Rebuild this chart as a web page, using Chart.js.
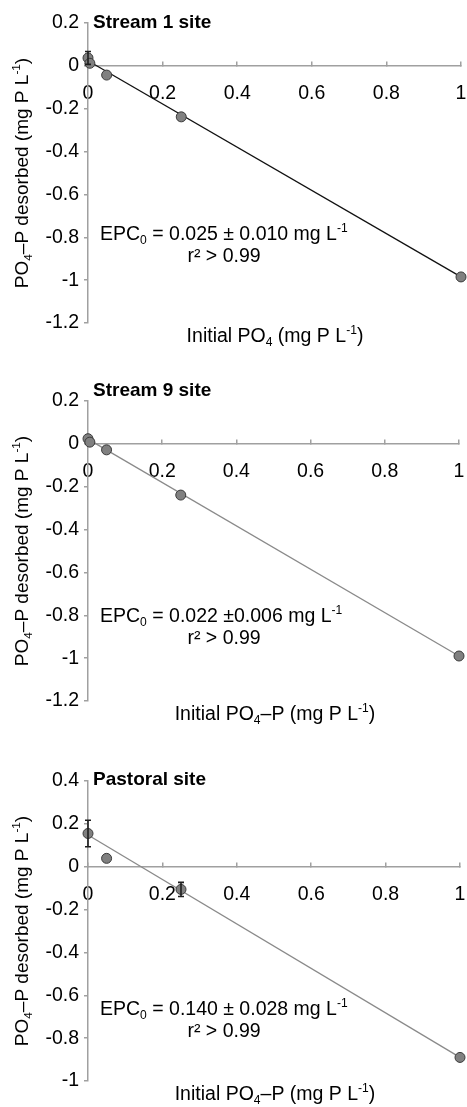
<!DOCTYPE html>
<html>
<head>
<meta charset="utf-8">
<script src="https://cdn.jsdelivr.net/npm/chart.js@4.4.1/dist/chart.umd.min.js"></script>
<style>
  body { margin: 0; background: #fff; width: 467px; height: 1107px; overflow: hidden; position: relative; }
  canvas { position: absolute; left: 0; }
</style>
</head>
<body>
<canvas id="stream1Chart" width="467" height="375" style="top:-17px"></canvas>
<canvas id="stream9Chart" width="467" height="375" style="top:361px"></canvas>
<canvas id="pastoralChart" width="467" height="375" style="top:741px"></canvas>
<script>
// initial PO4-P (x) and PO4-P desorbed (y), mg P L-1
const stream1X = [0, 0.005, 0.05, 0.25, 1]
const stream1Y = [0.037, 0.012, -0.043, -0.238, -0.985]
const stream1Err = [0.03, 0, 0, 0, 0]
const stream1FitX = [0, 1]
const stream1FitY = [0.024, -0.985]

const stream9X = [0, 0.005, 0.05, 0.25, 1]
const stream9Y = [0.024, 0.008, -0.028, -0.239, -0.99]
const stream9Err = [0, 0, 0, 0, 0]
const stream9FitX = [0, 1]
const stream9FitY = [0.022, -0.99]

const pastoralX = [0, 0.05, 0.25, 1]
const pastoralY = [0.155, 0.039, -0.106, -0.89]
const pastoralErr = [0.062, 0, 0.033, 0]
const pastoralFitX = [0, 1]
const pastoralFitY = [0.148, -0.89]

const xTicks = [0, 0.2, 0.4, 0.6, 0.8, 1]

const FONT = '"Liberation Sans", Arial, sans-serif'

const drawRich = (ctx, segs, x, y, size, align, bold) => {
    const fontFor = (m) => (bold ? 'bold ' : '') + (m ? size * 0.62 : size) + 'px ' + FONT
    let total = 0
    segs.forEach(([t, m]) => { ctx.font = fontFor(m); total += ctx.measureText(t).width })
    let cx = align === 'center' ? x - total / 2 : x
    ctx.textBaseline = 'middle'
    ctx.textAlign = 'left'
    segs.forEach(([t, m]) => {
        ctx.font = fontFor(m)
        const dy = m === 'sub' ? size * 0.3 : m === 'sup' ? -size * 0.32 : 0
        ctx.fillText(t, cx, y + dy)
        cx += ctx.measureText(t).width
    })
}

const fmt = (v) => String(Math.round(v * 100) / 100)

// titles, axis titles, EPC notes and error bars
const panelText = {
    id: 'panelText',
    afterDatasetsDraw(chart, args, opts) {
        const ctx = chart.ctx
        const xs = chart.scales.x, ys = chart.scales.y
        ctx.save()
        ctx.strokeStyle = '#1e1e1e'
        ctx.lineWidth = 1.6
        opts.err.forEach((e, i) => {
            if (!e) return
            const px = xs.getPixelForValue(opts.xs[i])
            const top = ys.getPixelForValue(opts.ys[i] + e)
            const bot = ys.getPixelForValue(opts.ys[i] - e)
            ctx.beginPath()
            ctx.moveTo(px, top); ctx.lineTo(px, bot)
            ctx.moveTo(px - 3, top); ctx.lineTo(px + 3, top)
            ctx.moveTo(px - 3, bot); ctx.lineTo(px + 3, bot)
            ctx.stroke()
        })
        ctx.restore()
    },
    afterDraw(chart, args, opts) {
        const ctx = chart.ctx
        ctx.save()
        ctx.fillStyle = '#000'
        drawRich(ctx, [[opts.title, '']], 93, opts.titleY, 19, 'left', true)
        drawRich(ctx, [['EPC', ''], ['0', 'sub'], [' = ' + opts.epc + ' mg L', ''], ['-1', 'sup']], 100, opts.epcY, 19.5, 'left')
        drawRich(ctx, [['r² > 0.99', '']], 224, opts.epcY + 22, 19.5, 'center')
        drawRich(ctx, opts.xTitle, 275, 354, 19.5, 'center')
        ctx.translate(23, 190)
        ctx.rotate(-Math.PI / 2)
        drawRich(ctx, [['PO', ''], ['4', 'sub'], ['–P desorbed (mg P L', ''], ['-1', 'sup'], [')', '']], 0, 0, 19, 'center')
        ctx.restore()
    }
}

const makePanel = (id, xs, ys, err, fitX, fitY, fitColor, yMin, yMax, rightPad, text) => {
    const ctx = document.getElementById(id)
    new Chart(ctx, {
        type: 'scatter',
        data: {
            datasets: [{
                data: xs.map((x, i) => ({ x: x, y: ys[i] })),
                backgroundColor: '#808080',
                borderColor: '#3a3a3a',
                borderWidth: 1,
                pointRadius: 5,
                clip: false
            }, {
                type: 'line',
                data: fitX.map((x, i) => ({ x: x, y: fitY[i] })),
                borderColor: fitColor,
                borderWidth: 1.3,
                pointRadius: 0,
                clip: false
            }]
        },
        options: {
            responsive: false,
            devicePixelRatio: 1,
            animation: false,
            layout: { padding: { top: 40, right: rightPad, left: 0, bottom: 35 } },
            plugins: {
                legend: { display: false },
                tooltip: { enabled: false },
                panelText: Object.assign({ xs: xs, ys: ys, err: err }, text)
            },
            scales: {
                x: {
                    type: 'linear',
                    min: 0,
                    max: 1,
                    position: { y: 0 },
                    afterBuildTicks: (scale) => { scale.ticks = xTicks.map(v => ({ value: v })) },
                    afterFit: (scale) => {
                        scale.height = 0
                        scale.paddingLeft = 0
                        scale.paddingRight = 0
                        scale.paddingTop = 0
                        scale.paddingBottom = 0
                    },
                    ticks: { color: '#000', font: { family: FONT, size: 19.5 }, padding: 21, maxRotation: 0, callback: fmt },
                    grid: { drawOnChartArea: false, tickLength: -5, color: '#a0a0a0', lineWidth: 1.5 },
                    border: { color: '#a0a0a0', width: 1.5 }
                },
                y: {
                    min: yMin,
                    max: yMax,
                    afterFit: (scale) => {
                        scale.width = 88
                        scale.paddingTop = 0
                        scale.paddingBottom = 0
                    },
                    ticks: { stepSize: 0.2, color: '#000', font: { family: FONT, size: 19.5 }, padding: 5, callback: fmt },
                    grid: { drawOnChartArea: false, tickLength: 4, color: '#a0a0a0', lineWidth: 1.5 },
                    border: { color: '#a0a0a0', width: 1.5 }
                }
            }
        },
        plugins: [panelText]
    })
}

makePanel('stream1Chart', stream1X, stream1Y, stream1Err, stream1FitX, stream1FitY, '#111111', -1.2, 0.2, 6, {
    title: 'Stream 1 site', titleY: 40, epc: '0.025 ± 0.010', epcY: 252,
    xTitle: [['Initial PO', ''], ['4', 'sub'], [' (mg P L', ''], ['-1', 'sup'], [')', '']]
})
makePanel('stream9Chart', stream9X, stream9Y, stream9Err, stream9FitX, stream9FitY, '#8a8a8a', -1.2, 0.2, 8, {
    title: 'Stream 9 site', titleY: 30, epc: '0.022 ±0.006', epcY: 256,
    xTitle: [['Initial PO', ''], ['4', 'sub'], ['–P (mg P L', ''], ['-1', 'sup'], [')', '']]
})
makePanel('pastoralChart', pastoralX, pastoralY, pastoralErr, pastoralFitX, pastoralFitY, '#8a8a8a', -1, 0.4, 7, {
    title: 'Pastoral site', titleY: 39, epc: '0.140 ± 0.028', epcY: 269,
    xTitle: [['Initial PO', ''], ['4', 'sub'], ['–P (mg P L', ''], ['-1', 'sup'], [')', '']]
})
</script>
</body>
</html>
